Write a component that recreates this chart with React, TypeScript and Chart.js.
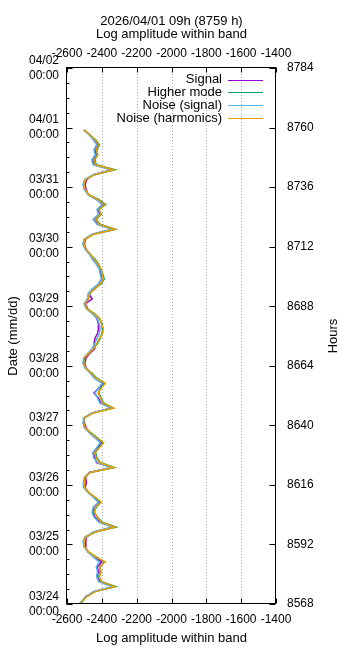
import React, { useEffect, useRef } from 'react';
import { Chart, registerables } from 'chart.js';

Chart.register(...registerables);

// ---- data ----
const HOURS = [
  8568,
  8569, 8571, 8573, 8575, 8577, 8579, 8581, 8583, 8585, 8587,
  8589, 8591, 8593, 8595, 8597, 8599, 8601, 8603, 8605, 8607,
  8609, 8611, 8613, 8615, 8617, 8619, 8621, 8623, 8625, 8627,
  8629, 8631, 8633, 8635, 8637, 8639, 8641, 8643, 8645, 8647,
  8649, 8651, 8653, 8655, 8657, 8659, 8661, 8663, 8665, 8667,
  8669, 8671, 8673, 8675, 8677, 8679, 8681, 8683, 8685, 8687,
  8689, 8691, 8693, 8695, 8697, 8699, 8701, 8703, 8705, 8707,
  8709, 8711, 8713, 8715, 8717, 8719, 8721, 8723, 8725, 8727,
  8729, 8731, 8733, 8735, 8737, 8739, 8741, 8743, 8745, 8747,
  8749, 8751, 8753, 8755, 8757, 8759,
];

const SIGNAL = [
  -2528,
  -2512, -2492, -2446, -2335, -2412, -2428, -2420, -2425, -2400, -2445,
  -2480, -2495, -2492, -2490, -2445, -2334, -2410, -2440, -2452, -2445,
  -2412, -2446, -2478, -2496, -2488, -2494, -2472, -2340, -2430, -2440,
  -2448, -2425, -2400, -2438, -2470, -2490, -2500, -2502, -2455, -2342,
  -2405, -2420, -2445, -2418, -2392, -2440, -2462, -2490, -2498, -2492,
  -2470, -2440, -2445, -2440, -2425, -2418, -2420, -2428, -2450, -2482,
  -2494, -2455, -2476, -2440, -2418, -2400, -2405, -2412, -2430, -2452,
  -2468, -2490, -2500, -2494, -2452, -2334, -2422, -2445, -2412, -2425,
  -2392, -2430, -2478, -2490, -2496, -2488, -2448, -2338, -2444, -2452,
  -2432, -2440, -2425, -2445, -2468, -2500,
];

const HIGHER_MODE = [
  -2530,
  -2516, -2488, -2440, -2320, -2400, -2418, -2408, -2410, -2385, -2432,
  -2478, -2500, -2505, -2492, -2440, -2318, -2398, -2425, -2445, -2432,
  -2408, -2440, -2478, -2503, -2498, -2495, -2470, -2328, -2410, -2428,
  -2436, -2418, -2394, -2425, -2462, -2498, -2506, -2500, -2450, -2336,
  -2390, -2404, -2418, -2408, -2385, -2428, -2456, -2494, -2507, -2500,
  -2478, -2450, -2424, -2410, -2400, -2394, -2398, -2414, -2442, -2488,
  -2500, -2480, -2468, -2445, -2404, -2386, -2395, -2408, -2418, -2440,
  -2470, -2494, -2508, -2500, -2450, -2322, -2410, -2432, -2404, -2418,
  -2378, -2418, -2478, -2498, -2506, -2498, -2445, -2325, -2432, -2440,
  -2426, -2428, -2414, -2434, -2470, -2505,
];

const NOISE_SIGNAL = [
  -2520,
  -2510, -2490, -2450, -2342, -2418, -2430, -2425, -2432, -2415, -2450,
  -2478, -2500, -2508, -2498, -2448, -2340, -2418, -2445, -2456, -2450,
  -2420, -2450, -2480, -2505, -2506, -2500, -2470, -2348, -2425, -2448,
  -2452, -2430, -2410, -2440, -2472, -2500, -2508, -2506, -2452, -2350,
  -2412, -2425, -2440, -2420, -2398, -2444, -2466, -2495, -2508, -2506,
  -2480, -2455, -2440, -2428, -2415, -2410, -2415, -2425, -2455, -2488,
  -2502, -2482, -2480, -2455, -2420, -2402, -2410, -2415, -2432, -2455,
  -2472, -2496, -2508, -2502, -2455, -2340, -2428, -2450, -2420, -2428,
  -2398, -2432, -2480, -2500, -2508, -2498, -2450, -2346, -2450, -2458,
  -2438, -2446, -2430, -2448, -2472, -2504,
];

const NOISE_HARMONICS = [
  -2525,
  -2514, -2485, -2437, -2326, -2403, -2414, -2403, -2414, -2380, -2437,
  -2475, -2498, -2502, -2495, -2437, -2326, -2403, -2428, -2441, -2437,
  -2403, -2437, -2475, -2500, -2502, -2498, -2466, -2332, -2414, -2433,
  -2441, -2414, -2389, -2428, -2466, -2495, -2504, -2504, -2447, -2332,
  -2395, -2408, -2422, -2403, -2380, -2433, -2460, -2491, -2504, -2504,
  -2475, -2447, -2428, -2414, -2395, -2391, -2403, -2410, -2445, -2485,
  -2498, -2475, -2472, -2441, -2408, -2391, -2399, -2403, -2422, -2445,
  -2466, -2491, -2504, -2498, -2447, -2326, -2414, -2437, -2408, -2414,
  -2383, -2422, -2475, -2495, -2504, -2495, -2441, -2332, -2437, -2445,
  -2422, -2433, -2418, -2437, -2466, -2502,
];

const X_TICKS = [-2600, -2400, -2200, -2000, -1800, -1600, -1400];
const HOUR_TICKS = [8568, 8592, 8616, 8640, 8664, 8688, 8712, 8736, 8760, 8784];
const DATE_LABELS = ['03/24', '03/25', '03/26', '03/27', '03/28', '03/29', '03/30', '03/31', '04/01', '04/02'];
const TIME_LABEL = '00:00';

const TITLE = '2026/04/01 09h (8759 h)';
const X_LABEL = 'Log amplitude within band';
const Y_LABEL = 'Date (mm/dd)';
const Y2_LABEL = 'Hours';

const SERIES_NAMES = ['Signal', 'Higher mode', 'Noise (signal)', 'Noise (harmonics)'];
const SERIES_VALUES = [SIGNAL, HIGHER_MODE, NOISE_SIGNAL, NOISE_HARMONICS];
const SERIES_COLORS = ['#9400d3', '#009e73', '#56b4e9', '#e69f00'];

// ---- styling ----
const FONT = '"Liberation Sans", Arial, sans-serif';
const X_MIN = -2600, X_MAX = -1400, Y_MIN = 8568, Y_MAX = 8784;

const framePlugin = {
  id: 'gnuframe',
  beforeDatasetsDraw(chart: any) {
    const { ctx, chartArea: a, scales } = chart;
    ctx.save();
    ctx.strokeStyle = '#a8a8a8';
    ctx.lineWidth = 1;
    ctx.setLineDash([1, 2]);
    for (const v of X_TICKS) {
      if (v <= X_MIN || v >= X_MAX) continue;
      const px = Math.round(scales.x.getPixelForValue(v)) + 0.5;
      ctx.beginPath();
      ctx.moveTo(px, a.top);
      ctx.lineTo(px, a.bottom);
      ctx.stroke();
    }
    ctx.restore();
  },
  afterDatasetsDraw(chart: any) {
    const { ctx, chartArea: a, scales } = chart;
    ctx.save();
    ctx.strokeStyle = '#000';
    ctx.lineWidth = 1;
    ctx.setLineDash([]);
    const L = a.left - 0.5, R = a.right - 0.5, T = a.top - 0.5, B = a.bottom - 0.5;
    ctx.strokeRect(L, T, R - L, B - T);
    ctx.beginPath();
    for (const v of X_TICKS) {
      const px = Math.round(scales.x.getPixelForValue(v)) + 0.5;
      ctx.moveTo(px, B); ctx.lineTo(px, B - 5);
      ctx.moveTo(px, T); ctx.lineTo(px, T + 5);
    }
    for (let h = Y_MIN; h <= Y_MAX; h += 6) {
      const py = Math.round(scales.y.getPixelForValue(h)) + 0.5;
      const major = (h - Y_MIN) % 24 === 0;
      ctx.moveTo(L, py); ctx.lineTo(L + (major ? 6 : 3), py);
    }
    for (const h of HOUR_TICKS) {
      const py = Math.round(scales.y2.getPixelForValue(h)) + 0.5;
      ctx.moveTo(R, py); ctx.lineTo(R - 6, py);
    }
    ctx.stroke();
    ctx.restore();
  },
  afterDraw(chart: any) {
    const { ctx, chartArea: a } = chart;
    const cx = (a.left + a.right) / 2;
    const cy = (a.top + a.bottom) / 2;
    ctx.save();
    ctx.fillStyle = '#000';
    ctx.font = `13px ${FONT}`;
    ctx.textAlign = 'center';
    ctx.textBaseline = 'middle';
    ctx.fillText(TITLE, cx, 21.5);
    ctx.fillText(X_LABEL, cx, 34.5);
    ctx.fillText(X_LABEL, cx, 638);
    ctx.save();
    ctx.translate(13, cy);
    ctx.rotate(-Math.PI / 2);
    ctx.fillText(Y_LABEL, 0, 0);
    ctx.restore();
    ctx.save();
    ctx.translate(333, cy);
    ctx.rotate(-Math.PI / 2);
    ctx.fillText(Y2_LABEL, 0, 0);
    ctx.restore();
    // legend
    ctx.textAlign = 'right';
    SERIES_NAMES.forEach((name, i) => {
      const y = a.top + 11.5 + i * 12.9;
      ctx.fillStyle = '#000';
      ctx.fillText(name, a.right - 54, y);
      ctx.strokeStyle = SERIES_COLORS[i];
      ctx.lineWidth = 1;
      ctx.beginPath();
      const ly = Math.round(y) + 0.5;
      ctx.moveTo(a.right - 48, ly);
      ctx.lineTo(a.right - 13, ly);
      ctx.stroke();
    });
    ctx.restore();
  },
};

const tickFont = { family: FONT, size: 12, lineHeight: 1.25 };

function xScale(position: 'top' | 'bottom', height: number, padding: number) {
  return {
    type: 'linear',
    axis: 'x',
    position,
    min: X_MIN,
    max: X_MAX,
    afterBuildTicks: (s: any) => { s.ticks = X_TICKS.map((v) => ({ value: v })); },
    afterFit: (s: any) => { s.height = height; },
    grid: { display: false, drawTicks: false },
    border: { display: false },
    ticks: {
      font: tickFont, color: '#000', padding, autoSkip: false, maxRotation: 0,
      callback: (v: any) => String(v),
    },
  };
}

export default function App() {
  const ref = useRef<HTMLCanvasElement>(null);
  useEffect(() => {
    const datasets = SERIES_NAMES.map((name, i) => ({
      label: name,
      data: HOURS.map((h, k) => ({ x: SERIES_VALUES[i][k], y: h })),
      borderColor: SERIES_COLORS[i],
      backgroundColor: SERIES_COLORS[i],
      borderWidth: 1.5,
      pointRadius: 0,
      showLine: true,
      tension: 0,
      fill: false,
      order: SERIES_NAMES.length - i,
      xAxisID: 'x',
      yAxisID: 'y',
    }));
    const chart = new Chart(ref.current as HTMLCanvasElement, {
      type: 'scatter',
      data: { datasets } as any,
      options: {
        responsive: false,
        animation: false,
        events: [],
        layout: { padding: 0 },
        plugins: { legend: { display: false }, tooltip: { enabled: false }, title: { display: false } },
        scales: {
          x: xScale('bottom', 44, 8),
          x2: xScale('top', 68, 7),
          y: {
            type: 'linear',
            axis: 'y',
            position: 'left',
            min: Y_MIN,
            max: Y_MAX,
            afterBuildTicks: (s: any) => { s.ticks = HOUR_TICKS.map((v) => ({ value: v })); },
            afterFit: (s: any) => { s.width = 67; },
            grid: { display: false, drawTicks: false },
            border: { display: false },
            ticks: {
              font: tickFont, color: '#000', padding: 8, autoSkip: false,
              callback: (v: any) => [DATE_LABELS[HOUR_TICKS.indexOf(Number(v))], TIME_LABEL],
            },
          },
          y2: {
            type: 'linear',
            axis: 'y',
            position: 'right',
            min: Y_MIN,
            max: Y_MAX,
            afterBuildTicks: (s: any) => { s.ticks = HOUR_TICKS.map((v) => ({ value: v })); },
            afterFit: (s: any) => { s.width = 84; },
            grid: { display: false, drawTicks: false },
            border: { display: false },
            ticks: {
              font: tickFont, color: '#000', padding: 11, autoSkip: false,
              callback: (v: any) => String(v),
            },
          },
        },
      } as any,
      plugins: [framePlugin],
    });
    return () => chart.destroy();
  }, []);
  return (
    <div style={{ position: 'fixed', left: 0, top: 0, width: 360, height: 648, background: '#fff' }}>
      <canvas ref={ref} width={360} height={648} style={{ display: 'block' }} />
    </div>
  );
}
